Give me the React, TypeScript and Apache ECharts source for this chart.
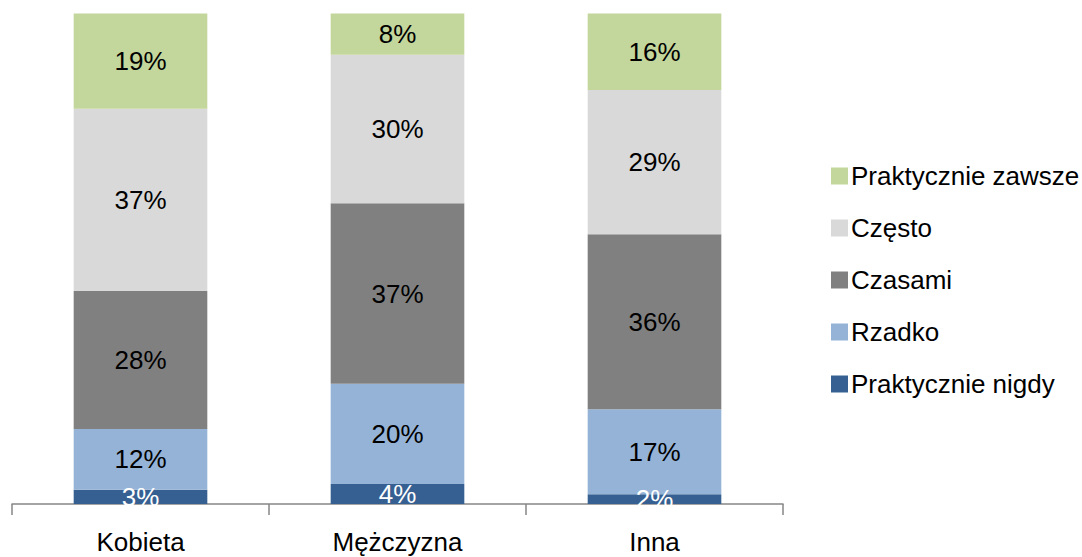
import React, { useEffect, useRef } from "react";
import * as echarts from "echarts";

const categories = ["Kobieta", "Mężczyzna", "Inna"];
const seriesNames = ["Praktycznie nigdy", "Rzadko", "Czasami", "Często", "Praktycznie zawsze"];
const praktycznieNigdy = [2.9, 4.1, 2.0];
const rzadko = [12.4, 20.4, 17.3];
const czasami = [28.1, 36.8, 35.7];
const czesto = [37.2, 30.3, 29.4];
const praktycznieZawsze = [19.4, 8.4, 15.6];
const colors = ["#376092", "#95B3D7", "#808080", "#D9D9D9", "#C3D69B"];
const labelColors = ["#FFFFFF", "#000000", "#000000", "#000000", "#000000"];
const legendOrder = ["Praktycznie zawsze", "Często", "Czasami", "Rzadko", "Praktycznie nigdy"];

const FONT = '"Liberation Sans", Arial, sans-serif';
const FS = 26;

export default function App() {
  const ref = useRef<HTMLDivElement>(null);
  useEffect(() => {
    document.body.style.margin = "0";
    if (!ref.current) return;
    const chart = echarts.init(ref.current, undefined, { renderer: "svg" });
    const allData = [praktycznieNigdy, rzadko, czasami, czesto, praktycznieZawsze];
    chart.setOption({
      animation: false,
      backgroundColor: "#FFFFFF",
      textStyle: { fontFamily: FONT },
      grid: { left: 12, right: 299, top: 13.5, bottom: 53, containLabel: false },
      legend: {
        orient: "vertical",
        left: 826,
        top: 156,
        itemWidth: 17,
        itemHeight: 17,
        itemGap: 22,
        icon: "rect",
        data: legendOrder,
        textStyle: { fontFamily: FONT, fontSize: FS, color: "#000000", lineHeight: 30, padding: [0, 0, 0, -2] },
      },
      xAxis: {
        type: "category",
        data: categories,
        axisLine: { show: true, lineStyle: { color: "#868686", width: 1.5 } },
        axisTick: { show: true, length: 11, lineStyle: { color: "#868686", width: 1.5 } },
        axisLabel: { fontFamily: FONT, fontSize: FS, color: "#000000", margin: 25 },
      },
      yAxis: {
        type: "value",
        min: 0,
        max: 100,
        show: false,
        splitLine: { show: false },
      },
      series: seriesNames.map((name, i) => ({
        name,
        type: "bar",
        stack: "total",
        barWidth: "52%",
        data: allData[i],
        itemStyle: { color: colors[i] },
        label: {
          show: true,
          position: "inside",
          fontFamily: FONT,
          fontSize: FS,
          color: labelColors[i],
          formatter: (p: any) => Math.round(p.value) + "%",
        },
      })),
    });
    return () => chart.dispose();
  }, []);
  return <div ref={ref} style={{ width: 1082, height: 557 }} />;
}
